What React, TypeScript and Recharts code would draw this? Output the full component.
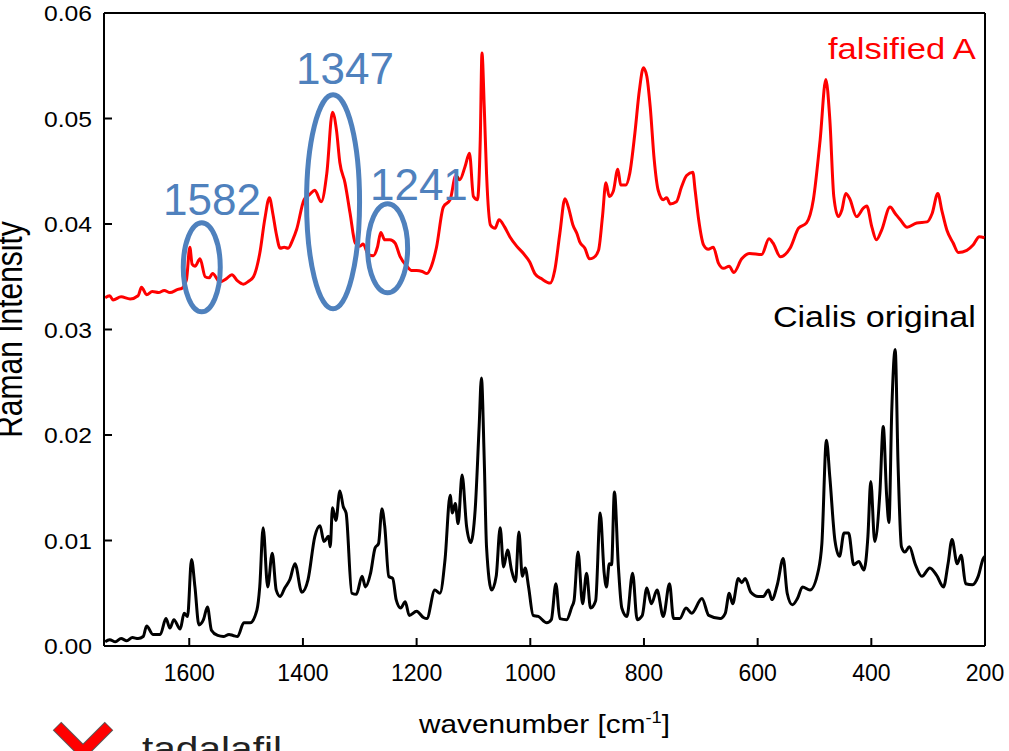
import {
  LineChart,
  Line,
  XAxis,
  YAxis,
  ReferenceLine,
  ReferenceDot,
} from "recharts";

// wavenumber [cm-1] / intensity, "Cialis original" (black)
const cialisWavenumber = [
  1748, 1740, 1730, 1720, 1710, 1700, 1690, 1681, 1675, 1664, 1651, 1641, 1634,
  1627, 1616, 1609, 1603, 1596, 1590, 1583, 1575, 1568, 1561, 1550, 1540, 1530,
  1523, 1515, 1504, 1493, 1481, 1476, 1470, 1462, 1454, 1447, 1440, 1432, 1423,
  1414, 1402, 1391, 1379, 1370, 1363, 1355, 1352, 1348, 1342, 1335, 1329, 1324,
  1314, 1306, 1296, 1290, 1281, 1273, 1267, 1261, 1256, 1249, 1242, 1236, 1228,
  1220, 1213, 1200, 1188, 1182, 1168, 1159, 1150, 1141, 1137, 1132, 1127, 1120,
  1112, 1105, 1097, 1090, 1086, 1081, 1077, 1068, 1060, 1053, 1047, 1040, 1033,
  1026, 1020, 1014, 1009, 1003, 995, 986, 971, 963, 955, 948, 936, 927, 923,
  916, 908, 901, 894, 885, 877, 870, 866, 861, 857, 852, 845, 839, 830, 820,
  812, 803, 795, 787, 777, 766, 755, 748, 737, 726, 716, 698, 686, 666, 657,
  650, 644, 634, 628, 622, 612, 599, 590, 581, 575, 565, 555, 548, 539, 530,
  521, 508, 493, 487, 479, 473, 464, 456, 448, 440, 431, 422, 413, 406, 401,
  394, 385, 379, 373, 369, 364, 358, 353, 347, 341, 333, 323, 311, 297, 285,
  273, 265, 258, 249, 242, 234, 222, 212, 203, 200,
];
const cialisIntensity = [
  0.0004, 0.0006, 0.0004, 0.0007, 0.0005, 0.0008, 0.0007, 0.0009, 0.0019,
  0.0011, 0.0011, 0.0026, 0.0017, 0.0025, 0.0016, 0.0031, 0.0028, 0.0082,
  0.0056, 0.002, 0.0025, 0.0037, 0.0015, 0.001, 0.0009, 0.0011, 0.001, 0.0009,
  0.0022, 0.0022, 0.0034, 0.0056, 0.0112, 0.0056, 0.0088, 0.0053, 0.0047,
  0.0055, 0.0063, 0.0078, 0.0051, 0.0063, 0.0104, 0.0114, 0.0099, 0.0104,
  0.0094, 0.0131, 0.0119, 0.0147, 0.0132, 0.0126, 0.005, 0.0049, 0.0066,
  0.0056, 0.0069, 0.0093, 0.0097, 0.013, 0.0113, 0.0066, 0.0064, 0.0044,
  0.0036, 0.0042, 0.0029, 0.0033, 0.0027, 0.0026, 0.0053, 0.005, 0.0082,
  0.0143, 0.0126, 0.0135, 0.0116, 0.0162, 0.0113, 0.0098, 0.0129, 0.0208,
  0.0254, 0.0176, 0.0094, 0.0053, 0.0066, 0.0112, 0.0075, 0.0091, 0.0072,
  0.0061, 0.0108, 0.0066, 0.0074, 0.0056, 0.0029, 0.0028, 0.0022, 0.0025,
  0.0059, 0.0026, 0.0025, 0.0037, 0.0043, 0.0089, 0.004, 0.0069, 0.0036,
  0.0043, 0.0126, 0.0069, 0.0056, 0.0078, 0.0077, 0.0146, 0.0075, 0.0036,
  0.0028, 0.0069, 0.0025, 0.0029, 0.0055, 0.004, 0.0053, 0.0028, 0.0059,
  0.0026, 0.0026, 0.0036, 0.0031, 0.0045, 0.0029, 0.0026, 0.0031, 0.005,
  0.004, 0.0064, 0.006, 0.0064, 0.0051, 0.0047, 0.0047, 0.0053, 0.0044,
  0.0059, 0.0083, 0.005, 0.0039, 0.0045, 0.0056, 0.0053, 0.0072, 0.0097,
  0.0195, 0.016, 0.01, 0.0085, 0.0107, 0.0107, 0.0077, 0.008, 0.0072, 0.0104,
  0.0156, 0.0099, 0.0145, 0.0208, 0.0142, 0.0117, 0.0224, 0.0281, 0.0173,
  0.0094, 0.0089, 0.0094, 0.0078, 0.0066, 0.0074, 0.0067, 0.0056, 0.0078,
  0.0101, 0.0078, 0.0086, 0.0059, 0.0058, 0.0066, 0.0083, 0.0085,
];

// "falsified A" (red)
const falsifiedWavenumber = [
  1748, 1740, 1734, 1720, 1704, 1690, 1684, 1675, 1665, 1654, 1644, 1634, 1620,
  1613, 1605, 1599, 1595, 1590, 1581, 1572, 1565, 1559, 1546, 1535, 1525, 1515,
  1505, 1495, 1487, 1476, 1467, 1459, 1453, 1447, 1440, 1433, 1426, 1418, 1411,
  1398, 1388, 1379, 1368, 1358, 1348, 1341, 1335, 1326, 1317, 1308, 1300, 1294,
  1285, 1276, 1269, 1263, 1256, 1247, 1238, 1229, 1217, 1209, 1200, 1190, 1182,
  1174, 1165, 1153, 1141, 1131, 1124, 1115, 1107, 1100, 1093, 1088, 1085, 1081,
  1077, 1070, 1062, 1055, 1045, 1036, 1024, 1012, 1001, 992, 980, 965, 957,
  948, 939, 933, 925, 918, 913, 904, 896, 889, 880, 873, 867, 861, 854, 846,
  841, 832, 825, 816, 808, 801, 795, 789, 782, 775, 766, 760, 754, 743, 734,
  725, 714, 710, 704, 695, 687, 678, 669, 660, 650, 642, 628, 614, 593, 580,
  573, 560, 543, 528, 514, 502, 490, 480, 473, 466, 458, 452, 445, 438, 426,
  414, 408, 399, 391, 382, 367, 358, 349, 337, 320, 302, 293, 283, 276, 267,
  256, 247, 232, 221, 210, 201,
];
const falsifiedIntensity = [
  0.033, 0.0332, 0.0328, 0.0331, 0.0329, 0.0332, 0.034, 0.0333, 0.0336,
  0.0335, 0.0337, 0.0335, 0.0338, 0.0339, 0.0347, 0.0378, 0.0362, 0.036,
  0.0367, 0.035, 0.0349, 0.0353, 0.0345, 0.0348, 0.0352, 0.0346, 0.0343,
  0.0346, 0.035, 0.0372, 0.0405, 0.0425, 0.041, 0.0391, 0.0377, 0.0378,
  0.0377, 0.0385, 0.0395, 0.0423, 0.0428, 0.0432, 0.0421, 0.0448, 0.0506,
  0.0489, 0.0458, 0.0439, 0.041, 0.0382, 0.0379, 0.0381, 0.0371, 0.037,
  0.0378, 0.0392, 0.0385, 0.0385, 0.0382, 0.0369, 0.036, 0.0356, 0.0356,
  0.0355, 0.0353, 0.036, 0.0378, 0.0416, 0.0423, 0.0446, 0.0442, 0.0454,
  0.0467, 0.0426, 0.0423, 0.048, 0.0562, 0.0511, 0.0448, 0.0399, 0.0396,
  0.0404, 0.0397, 0.0388, 0.0379, 0.0372, 0.0364, 0.0353, 0.0348, 0.0344,
  0.0356, 0.0391, 0.0424, 0.0416, 0.0399, 0.0391, 0.0383, 0.0377, 0.0367,
  0.0368, 0.0375, 0.0407, 0.0439, 0.0426, 0.0431, 0.0452, 0.0437, 0.0437,
  0.0448, 0.0486, 0.0527, 0.0548, 0.054, 0.0511, 0.0461, 0.0432, 0.0423,
  0.0425, 0.0419, 0.0421, 0.0435, 0.0446, 0.0449, 0.0432, 0.0405, 0.038,
  0.0376, 0.0378, 0.0363, 0.0358, 0.036, 0.0354, 0.0367, 0.0372, 0.0371,
  0.0386, 0.0382, 0.0369, 0.0377, 0.0396, 0.0401, 0.0423, 0.048, 0.0537,
  0.0499, 0.0426, 0.0407, 0.0413, 0.0429, 0.0424, 0.0407, 0.0415, 0.0417,
  0.0397, 0.0385, 0.0394, 0.0416, 0.041, 0.0404, 0.0397, 0.0401, 0.0402,
  0.041, 0.0429, 0.0413, 0.0394, 0.0382, 0.0373, 0.0375, 0.038, 0.0388,
  0.0387,
];

const xTicks = [1600, 1400, 1200, 1000, 800, 600, 400, 200];
const yTicks = [0, 0.01, 0.02, 0.03, 0.04, 0.05, 0.06];

// marked bands: ellipse centre (data coords) and where the number sits
const bandNames = ["1582", "1347", "1241"];
const bandCenterX = [1578, 1347, 1251];
const bandCenterY = [0.0359, 0.0421, 0.0377];
const bandLabelX = [1560, 1326, 1196];
const bandLabelY = [0.0409, 0.0533, 0.0423];

const cialisData = cialisWavenumber.map((x, i) => ({ x, y: cialisIntensity[i] }));
const falsifiedData = falsifiedWavenumber.map((x, i) => ({
  x,
  y: falsifiedIntensity[i],
}));

const FONT = "'Liberation Sans', Arial, sans-serif";
const BLUE = "#4f81bd";
const TICK_LEN = 8;
const ellipseSize = [
  { rx: 18.5, ry: 44.5 },
  { rx: 26.5, ry: 107 },
  { rx: 20, ry: 44.5 },
];

// ticks point into the plot, like the original plotting program
const BottomTick = (props: any) => {
  const { x, y, payload } = props;
  return (
    <g>
      <line x1={x} y1={y} x2={x} y2={y - TICK_LEN} stroke="#000" strokeWidth={2} />
      <text
        x={x}
        y={y + 35}
        textAnchor="middle"
        fontFamily={FONT}
        fontSize={23}
        fill="#000"
      >
        {payload.value}
      </text>
    </g>
  );
};

const LeftTick = (props: any) => {
  const { x, y, payload } = props;
  return (
    <g>
      <line x1={x} y1={y} x2={x + TICK_LEN} y2={y} stroke="#000" strokeWidth={2} />
      <text
        x={x - 12}
        y={y + 8}
        textAnchor="end"
        fontFamily={FONT}
        fontSize={22}
        fill="#000"
        textLength={48}
        lengthAdjust="spacingAndGlyphs"
      >
        {payload.value.toFixed(2)}
      </text>
    </g>
  );
};

const XLabel = (props: any) => {
  const { x, y, width } = props.viewBox;
  return (
    <text
      x={x + width / 2}
      y={y + 87}
      textAnchor="middle"
      fontFamily={FONT}
      fontSize={26}
      fill="#000"
      textLength={251}
      lengthAdjust="spacingAndGlyphs"
    >
      wavenumber [cm
      <tspan dy={-10} fontSize={16}>
        -1
      </tspan>
      <tspan dy={10}>]</tspan>
    </text>
  );
};

const YLabel = (props: any) => {
  const { y, height } = props.viewBox;
  return (
    <text
      transform={`translate(22, ${y + height / 2}) scale(1.2, 1) rotate(-90)`}
      textAnchor="middle"
      fontFamily={FONT}
      fontSize={30}
      fill="#000"
    >
      Raman Intensity
    </text>
  );
};

export default function App() {
  return (
    <div
      style={{
        position: "absolute",
        left: 0,
        top: 0,
        width: 1009,
        height: 751,
        overflow: "hidden",
        background: "#fff",
      }}
    >
      <LineChart
        width={1009}
        height={751}
        margin={{ top: 13, right: 24, bottom: 75, left: 0 }}
      >
        <XAxis
          type="number"
          dataKey="x"
          domain={[200, 1750]}
          reversed
          allowDataOverflow
          ticks={xTicks}
          height={30}
          tickLine={false}
          tickSize={0}
          tickMargin={0}
          stroke="#000"
          strokeWidth={2}
          tick={BottomTick}
          label={{ content: XLabel }}
        />
        <YAxis
          type="number"
          domain={[0, 0.06]}
          ticks={yTicks}
          width={104}
          tickLine={false}
          tickSize={0}
          tickMargin={0}
          stroke="#000"
          strokeWidth={2}
          tick={LeftTick}
          label={{ content: YLabel }}
        />
        <ReferenceLine y={0.06} stroke="#000" strokeWidth={2} />
        <ReferenceLine x={200} stroke="#000" strokeWidth={2} />
        <Line
          data={cialisData}
          dataKey="y"
          type="monotone"
          stroke="#000"
          strokeWidth={3}
          strokeLinejoin="round"
          dot={false}
          activeDot={false}
          isAnimationActive={false}
        />
        <Line
          data={falsifiedData}
          dataKey="y"
          type="monotone"
          stroke="#ff0000"
          strokeWidth={3}
          strokeLinejoin="round"
          dot={false}
          activeDot={false}
          isAnimationActive={false}
        />
        {bandNames.map((name, i) => (
          <ReferenceDot
            key={"e" + name}
            x={bandCenterX[i]}
            y={bandCenterY[i]}
            r={0}
            ifOverflow="visible"
            shape={(p: any) => (
              <ellipse
                cx={p.cx}
                cy={p.cy}
                rx={ellipseSize[i].rx}
                ry={ellipseSize[i].ry}
                fill="none"
                stroke={BLUE}
                strokeWidth={5}
              />
            )}
          />
        ))}
        {bandNames.map((name, i) => (
          <ReferenceDot
            key={"t" + name}
            x={bandLabelX[i]}
            y={bandLabelY[i]}
            r={0}
            ifOverflow="visible"
            shape={(p: any) => (
              <text
                x={p.cx}
                y={p.cy}
                textAnchor="middle"
                fontFamily={FONT}
                fontSize={44}
                fill={BLUE}
              >
                {name}
              </text>
            )}
          />
        ))}
        <ReferenceDot
          x={216}
          y={0.0556}
          r={0}
          ifOverflow="visible"
          shape={(p: any) => (
            <text
              x={p.cx}
              y={p.cy}
              textAnchor="end"
              fontFamily={FONT}
              fontSize={29}
              fill="#ff0000"
              textLength={148}
              lengthAdjust="spacingAndGlyphs"
            >
              falsified A
            </text>
          )}
        />
        <ReferenceDot
          x={216}
          y={0.0302}
          r={0}
          ifOverflow="visible"
          shape={(p: any) => (
            <text
              x={p.cx}
              y={p.cy}
              textAnchor="end"
              fontFamily={FONT}
              fontSize={29}
              fill="#000"
              textLength={203}
              lengthAdjust="spacingAndGlyphs"
            >
              Cialis original
            </text>
          )}
        />
      </LineChart>
      <svg
        width={1009}
        height={751}
        style={{ position: "absolute", left: 0, top: 0, pointerEvents: "none" }}
      >
        <g strokeLinecap="butt">
          <line x1={57} y1={726} x2={109} y2={778} stroke="#555" strokeWidth={12} />
          <line x1={109} y1={726} x2={57} y2={778} stroke="#555" strokeWidth={12} />
          <line x1={57.5} y1={726.5} x2={108.5} y2={777.5} stroke="#ff0000" strokeWidth={10} />
          <line x1={108.5} y1={726.5} x2={57.5} y2={777.5} stroke="#ff0000" strokeWidth={10} />
        </g>
        <text
          x={142}
          y={760}
          fontFamily={FONT}
          fontSize={34}
          fill="#222"
          textLength={140}
          lengthAdjust="spacingAndGlyphs"
        >
          tadalafil
        </text>
      </svg>
    </div>
  );
}
